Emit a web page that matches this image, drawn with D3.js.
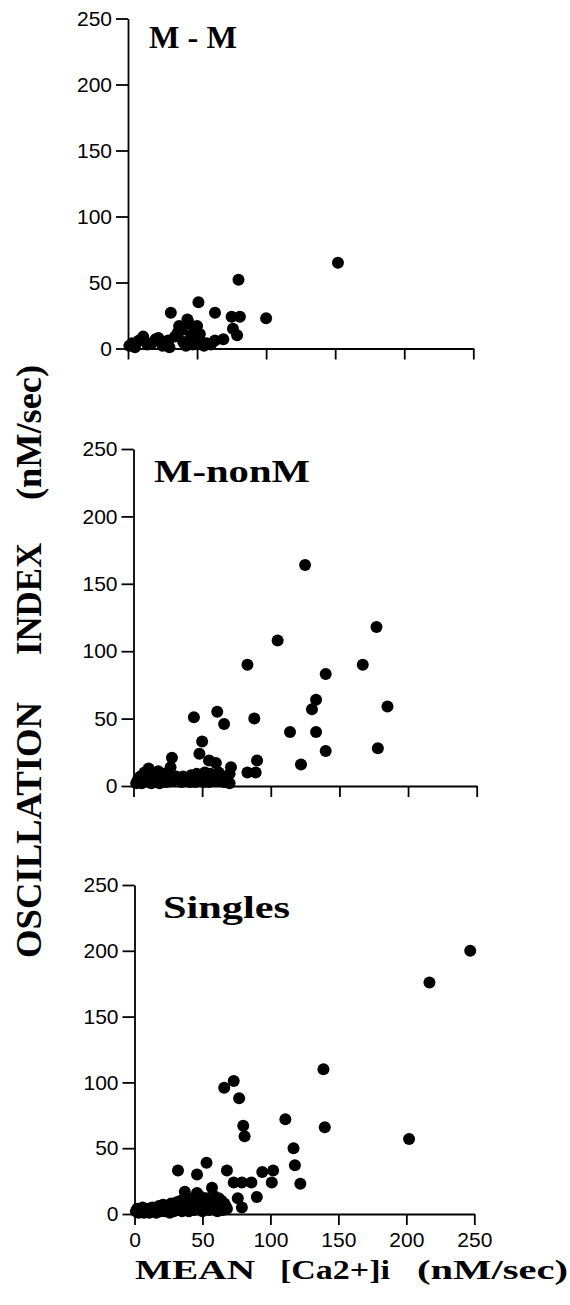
<!DOCTYPE html>
<html lang="en">
<head>
  <meta charset="UTF-8">
  <title>Oscillation index vs mean [Ca2+]i</title>
  <script src="https://d3js.org/d3.v7.min.js"></script>
  <style>
    body { margin: 0; background: #fff; }
    .tick text { font-family: "Liberation Sans", Arial, sans-serif; font-size: 21px; fill: #000; }
    .axis path, .axis line { stroke: #000; stroke-width: 1.8; }
    .title, .label { font-family: "Liberation Serif", "Times New Roman", serif; font-weight: bold; fill: #000; }
  </style>
</head>
<body>
  <svg id="chart" width="570" height="1305"></svg>
  <script>
    const tickValues = [0, 50, 100, 150, 200, 250];
    const panelNames = ["M - M", "M-nonM", "Singles"];

    // [mean Ca2+, oscillation index]
    const mmPoints = [
      [1,2],[3,4],[5,1],[8,6],[11,9],[14,3],[17,4],[20,7],[22,8],[25,2],[28,5],[30,1],
      [29,6],[31,27],[34,9],[36,12],[37,17],[39,14],[40,5],[42,2],[43,22],[44,19],[46,10],
      [47,3],[45,7],[48,14],[50,17],[51,35],[52,11],[53,5],[55,2],[57,4],[60,3],[63,6],
      [63,27],[69,7],[75,24],[76,15],[79,10],[81,24],[80,52],[100,23],[152,65]
    ];

    const mnonmPoints = [
      [2,2],[3,4],[5,7],[6,2],[8,10],[9,4],[11,13],[12,6],[13,2],[15,8],[16,4],[18,11],
      [19,2],[20,6],[22,9],[24,3],[25,6],[27,14],[28,21],[29,4],[31,7],[33,5],[35,3],[36,7],
      [38,5],[40,6],[41,3],[42,8],[44,6],[45,3],[46,9],[47,5],[48,24],[49,8],[50,33],[51,3],
      [52,10],[53,6],[55,19],[55,3],[56,9],[57,6],[59,4],[60,17],[61,8],[62,10],[63,4],[65,7],
      [66,3],[68,5],[70,2],[71,14],[70,9],
      [44,51],[61,55],[66,46],[83,90],[88,50],[83,10],[89,10],[90,19],[105,108],[114,40],
      [122,16],[125,164],[130,57],[133,64],[133,40],[140,83],[140,26],[167,90],[177,118],
      [178,28],[185,59]
    ];

    const singlesPoints = [
      [1,2],[2,4],[3,1],[4,3],[5,2],[6,5],[7,1],[8,3],[9,2],[10,4],[11,1],[12,3],[13,5],
      [14,2],[15,4],[16,1],[17,3],[18,6],[19,2],[20,4],[21,7],[22,2],[23,5],[24,3],[25,6],
      [26,1],[27,8],[28,4],[29,2],[30,6],[31,9],[32,3],[33,5],[34,10],[35,2],[36,7],[37,4],
      [38,11],[39,6],[40,2],[41,9],[42,5],[43,12],[44,3],[45,8],[46,11],[47,4],[48,6],[49,13],
      [50,2],[51,9],[52,5],[53,12],[54,7],[55,3],[56,10],[57,6],[58,14],[59,4],[60,9],[61,2],
      [62,7],[63,5],[64,10],[65,3],[66,8],[67,6],[68,4],
      [247,200],[217,176],[139,110],[73,101],[66,96],[77,88],[80,67],[81,59],[111,72],
      [140,66],[202,57],[117,50],[118,37],[122,23],[32,33],[46,30],[53,39],[68,33],[94,32],
      [102,33],[73,24],[79,24],[86,24],[101,24],[90,13],[76,12],[79,5],[57,20],[37,17],
      [46,16],[62,12]
    ];

    const svg = d3.select("#chart");

    // layout of the three stacked panels
    const panels = [
      { name: panelNames[0], pts: mmPoints,      left: 128,   right: 473.3, top: 18.5, bottom: 348.5, labels: false, tx: 149, ty: 48,  tw: 88 },
      { name: panelNames[1], pts: mnonmPoints,   left: 133.5, right: 476.7, top: 449,  bottom: 786,   labels: false, tx: 154, ty: 482, tw: 156 },
      { name: panelNames[2], pts: singlesPoints, left: 134.5, right: 474.3, top: 885,  bottom: 1214,  labels: true,  tx: 163, ty: 918, tw: 127 }
    ];

    panels.forEach(p => {
      const x = d3.scaleLinear().domain([0, 250]).range([p.left, p.right]);
      const y = d3.scaleLinear().domain([0, 250]).range([p.bottom, p.top]);
      const g = svg.append("g");

      const xAxis = d3.axisBottom(x).tickValues(tickValues).tickSize(11).tickSizeOuter(0).tickPadding(7);
      if (!p.labels) xAxis.tickFormat("");
      g.append("g").attr("class", "axis")
        .attr("transform", `translate(0,${p.bottom})`)
        .call(xAxis);

      g.append("g").attr("class", "axis")
        .attr("transform", `translate(${p.left},0)`)
        .call(d3.axisLeft(y).tickValues(tickValues).tickSize(12).tickSizeOuter(0).tickPadding(4));

      g.append("g").selectAll("circle")
        .data(p.pts)
        .join("circle")
        .attr("cx", d => x(d[0]))
        .attr("cy", d => y(d[1]))
        .attr("r", 6)
        .attr("fill", "#000");

      g.append("text").attr("class", "title")
        .attr("x", p.tx).attr("y", p.ty)
        .attr("font-size", 31)
        .attr("textLength", p.tw)
        .attr("lengthAdjust", "spacingAndGlyphs")
        .text(p.name);
    });

    // x axis title
    const xLabel = [["MEAN", 135, 120], ["[Ca2+]i", 280, 110], ["(nM/sec)", 417, 151]];
    xLabel.forEach(([t, x0, w]) => {
      svg.append("text").attr("class", "label")
        .attr("x", x0).attr("y", 1279)
        .attr("font-size", 28)
        .attr("textLength", w)
        .attr("lengthAdjust", "spacingAndGlyphs")
        .text(t);
    });

    // y axis title, rotated, reading upward
    const yLabel = [["OSCILLATION", 958, 256], ["INDEX", 655, 112], ["(nM/sec)", 500, 135]];
    yLabel.forEach(([t, y0, w]) => {
      svg.append("text").attr("class", "label")
        .attr("transform", `translate(41,${y0}) rotate(-90)`)
        .attr("font-size", 35)
        .attr("textLength", w)
        .attr("lengthAdjust", "spacingAndGlyphs")
        .text(t);
    });
  </script>
</body>
</html>
